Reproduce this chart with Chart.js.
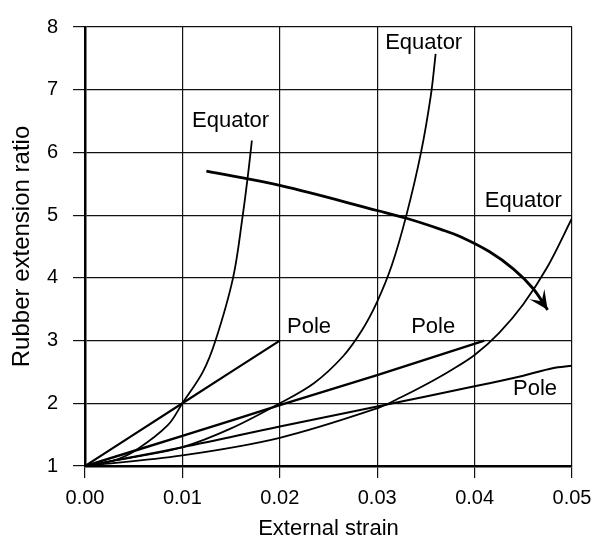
<!DOCTYPE html>
<html>
<head>
<meta charset="utf-8">
<title>Rubber extension ratio</title>
<script src="https://cdn.jsdelivr.net/npm/chart.js@4"></script>
<style>
    body { margin: 0; background: #fff; }
</style>
</head>
<body>
<canvas id="chart" width="613" height="545"></canvas>
<script>
// DATA
const xTicks = [0, 0.01, 0.02, 0.03, 0.04, 0.05];
const xTickLabels = ['0.00', '0.01', '0.02', '0.03', '0.04', '0.05'];
const yTicks = [1, 2, 3, 4, 5, 6, 7, 8];
const yTickLabels = ['1', '2', '3', '4', '5', '6', '7', '8'];

const equator1X = [0, 0.003, 0.0053, 0.0085, 0.01, 0.0121, 0.0134, 0.0152, 0.0162, 0.0167, 0.0170, 0.01713];
const equator1Y = [1, 1.09, 1.26, 1.65, 2, 2.5, 3, 4, 5, 5.6, 6, 6.19];
const pole1X = [0, 0.01, 0.02];
const pole1Y = [1, 2, 3];

const equator2X = [0, 0.005, 0.01, 0.015, 0.02, 0.0235, 0.0265, 0.0285, 0.03, 0.0315, 0.033, 0.0345, 0.0355, 0.036];
const equator2Y = [1, 1.14, 1.3, 1.6, 2.0, 2.32, 2.75, 3.18, 3.62, 4.2, 5.0, 6.0, 6.9, 7.57];
const pole2X = [0, 0.01, 0.02, 0.03, 0.041];
const pole2Y = [1, 1.48, 1.97, 2.45, 3.0];

const equator3X = [0, 0.01, 0.02, 0.03, 0.0325, 0.035, 0.0375, 0.04, 0.0425, 0.045, 0.0475, 0.05];
const equator3Y = [1, 1.17, 1.45, 1.92, 2.1, 2.3, 2.52, 2.77, 3.12, 3.58, 4.18, 4.95];
const pole3X = [0, 0.01, 0.02, 0.03, 0.04, 0.045, 0.048, 0.05];
const pole3Y = [1, 1.3, 1.63, 1.95, 2.27, 2.44, 2.56, 2.6];

// freccia (tendenza)
const arrowX = [0.01246, 0.0201, 0.0301, 0.033, 0.0366, 0.0385, 0.0415, 0.044, 0.046, 0.0475];
const arrowY = [5.70, 5.47, 5.07, 4.95, 4.77, 4.66, 4.42, 4.14, 3.83, 3.49];

// etichette delle curve
const labelText = ['Equator', 'Equator', 'Equator', 'Pole', 'Pole', 'Pole'];
const labelX = [0.01495, 0.03477, 0.045, 0.0230, 0.03575, 0.0462];
const labelY = [6.51, 7.74, 5.23, 3.22, 3.22, 2.23];

const FONT = "'Liberation Sans', Arial, sans-serif";
const INK = '#000';

function toPoints(xs, ys) {
    return xs.map((x, i) => ({ x: x, y: ys[i] }));
}

function curve(xs, ys, width) {
    return {
        data: toPoints(xs, ys),
        borderColor: INK,
        borderWidth: width,
        pointRadius: 0,
        fill: false,
        tension: 0.35
    };
}

// PLUGIN: testo e punta della freccia
const annotations = {
    id: 'annotations',
    afterDatasetsDraw(chart) {
        const ctx = chart.ctx;
        const xs = chart.scales.x;
        const ys = chart.scales.y;

        // punta della freccia sull'ultimo punto
        const pts = chart.getDatasetMeta(6).data;
        const tip = pts[pts.length - 1];
        const prev = pts[pts.length - 2];
        let dx = tip.x - prev.x, dy = tip.y - prev.y;
        const len = Math.hypot(dx, dy);
        dx /= len; dy /= len;
        const L = 19, W = 9;
        ctx.save();
        ctx.fillStyle = INK;
        ctx.beginPath();
        ctx.moveTo(tip.x, tip.y);
        ctx.lineTo(tip.x - L * dx - W * dy, tip.y - L * dy + W * dx);
        ctx.lineTo(tip.x - 0.55 * L * dx, tip.y - 0.55 * L * dy);
        ctx.lineTo(tip.x - L * dx + W * dy, tip.y - L * dy - W * dx);
        ctx.closePath();
        ctx.fill();

        ctx.font = '22px ' + FONT;
        ctx.textAlign = 'center';
        ctx.textBaseline = 'middle';
        labelText.forEach((t, i) => {
            ctx.fillText(t, xs.getPixelForValue(labelX[i]), ys.getPixelForValue(labelY[i]));
        });
        ctx.restore();
    }
};

const ctx = document.getElementById('chart').getContext('2d');

const chart = new Chart(ctx, {
    type: 'line',
    data: {
        datasets: [
            curve(equator1X, equator1Y, 1.8),
            curve(pole1X, pole1Y, 2.2),
            curve(equator2X, equator2Y, 1.8),
            curve(pole2X, pole2Y, 2.4),
            curve(equator3X, equator3Y, 1.8),
            curve(pole3X, pole3Y, 2),
            curve(arrowX, arrowY, 2.8)
        ]
    },
    options: {
        responsive: false,
        animation: false,
        layout: { padding: { top: 13, right: 41, left: 0, bottom: 0 } },
        plugins: {
            legend: { display: false },
            tooltip: { enabled: false }
        },
        scales: {
            x: {
                type: 'linear',
                min: 0,
                max: 0.05,
                afterBuildTicks: s => { s.ticks = xTicks.map(v => ({ value: v })); },
                afterFit: s => { s.height = 79; },
                ticks: {
                    color: INK,
                    font: { family: FONT, size: 20 },
                    padding: 8,
                    maxRotation: 0,
                    callback: (v, i) => xTickLabels[i]
                },
                grid: { color: '#111', lineWidth: 1.2, tickLength: 12 },
                border: { color: '#000', width: 2.5 },
                title: {
                    display: true,
                    text: 'External strain',
                    color: INK,
                    font: { family: FONT, size: 22 },
                    padding: { top: 0, bottom: 3 }
                }
            },
            y: {
                min: 1,
                max: 8,
                afterBuildTicks: s => { s.ticks = yTicks.map(v => ({ value: v })); },
                afterFit: s => { s.width = 85; },
                ticks: {
                    color: INK,
                    font: { family: FONT, size: 20 },
                    padding: 15,
                    callback: (v, i) => yTickLabels[i]
                },
                grid: { color: '#111', lineWidth: 1.2, tickLength: 12 },
                border: { color: '#000', width: 2.5 },
                title: {
                    display: true,
                    text: 'Rubber extension ratio',
                    color: INK,
                    font: { family: FONT, size: 24 },
                    padding: { top: 8, bottom: 0 }
                }
            }
        }
    },
    plugins: [annotations]
});
</script>
</body>
</html>
